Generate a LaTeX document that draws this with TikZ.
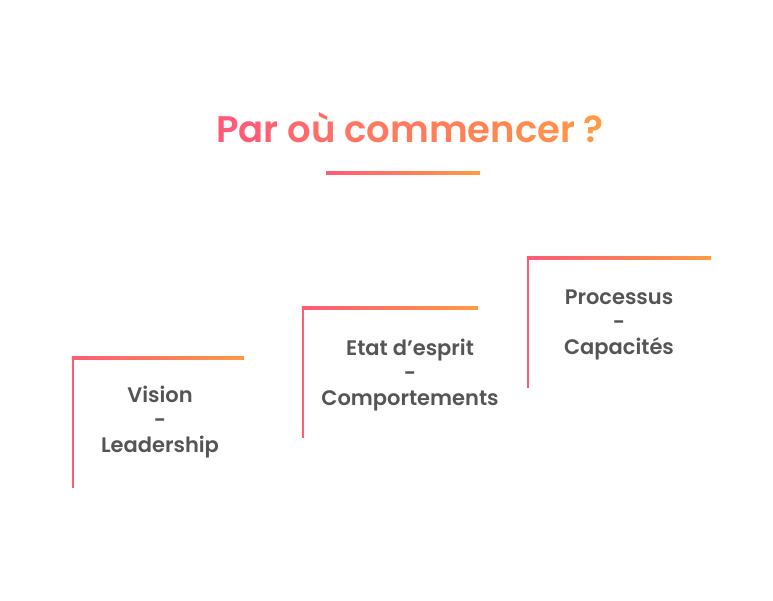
\documentclass[tikz,border=0pt]{standalone}
\usepackage{fontspec}
\newfontfamily\titlefont{Poppins SemiBold}
\newfontfamily\stepfont{Poppins SemiBold}
\definecolor{stairpink}{HTML}{FF5A78}
\definecolor{stairorange}{HTML}{FF9A42}
\definecolor{stairtext}{HTML}{555555}

\begin{document}
\begin{tikzpicture}[x=1pt, y=-1pt,
    steptext/.style={align=center, text=stairtext, font=\stepfont\fontsize{21}{25}\selectfont},
    titletext/.style={font=\titlefont\fontsize{37}{44}\selectfont},
    riser/.style={fill=stairpink},
    tread/.style={left color=stairpink, right color=stairorange}
]
\useasboundingbox (0,0) rectangle (773,601);
% title, one colour per letter
\node[titletext] (title) at (410,128) {%
  \foreach \ch [count=\i from 0] in {P,a,r,~,o,ù,~,c,o,m,m,e,n,c,e,r,~,?}{%
    \pgfmathtruncatemacro\pct{\i*100/17}%
    \textcolor{stairorange!\pct!stairpink}{\ch}}};
\shade[tread] (326,171.5) rectangle (480,174.5);
% the three steps
\foreach \x/\y/\w/\cx/\cy/\name/\txt in {
    73/358/171/160/422/vision/{Vision\\-\\Leadership},
    303/308/175/410/375/esprit/{Etat d’esprit\\-\\Comportements},
    528/258/183/619/325/processus/{Processus\\-\\Capacités}}{
  \fill[riser] (\x-1.25,\y-1.25) rectangle (\x+1.25,\y+130);
  \shade[tread] (\x-1.25,\y-1.25) rectangle (\x+\w,\y+1.25);
  \node[steptext] (\name) at (\cx,\cy) {\txt};
}
\end{tikzpicture}
\end{document}
